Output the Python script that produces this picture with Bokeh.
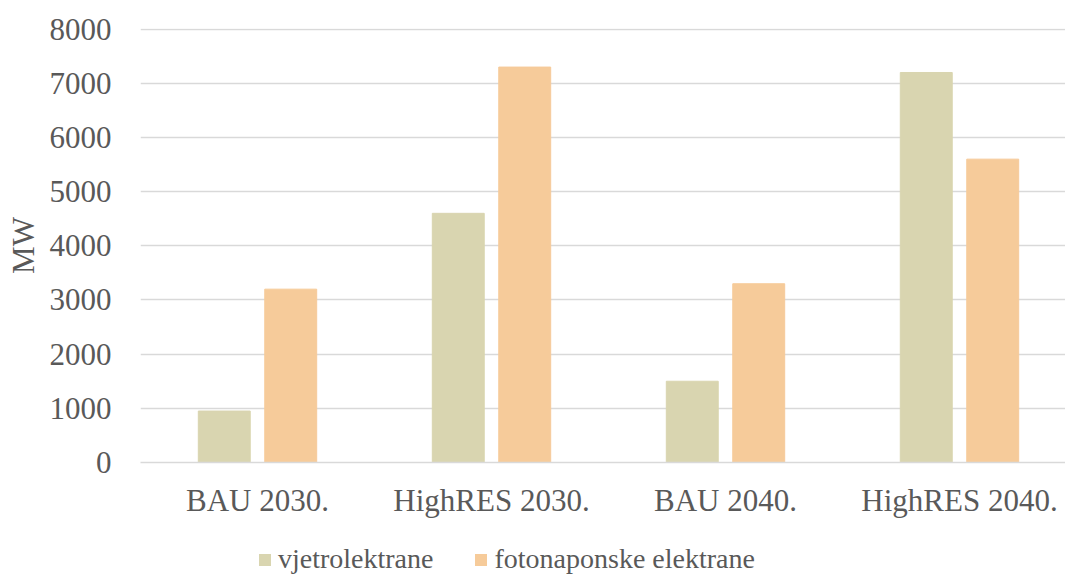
from bokeh.plotting import figure
from bokeh.layouts import column
from bokeh.models import ColumnDataSource, Range1d, FixedTicker, Legend, LegendItem
from bokeh.transform import dodge
from bokeh.embed import file_html
from bokeh.resources import INLINE

categories = ["BAU 2030.", "HighRES 2030.", "BAU 2040.", "HighRES 2040."]
wind = [950, 4600, 1500, 7200]
solar = [3200, 7300, 3300, 5600]
series_names = ["vjetrolektrane", "fotonaponske elektrane"]
y_ticks = [0, 1000, 2000, 3000, 4000, 5000, 6000, 7000, 8000]

FONT = "Liberation Serif"
TEXT = "#595959"
GRID = "#D9D9D9"
WIND_C = "#D9D5B0"
SOLAR_C = "#F6CB9A"

src = ColumnDataSource(dict(x=list(range(len(categories))), wind=wind, solar=solar))

p = figure(width=1065, height=530,
           x_range=Range1d(-0.5, 3.453), y_range=Range1d(0, 8012),
           output_backend="svg", toolbar_location=None,
           min_border_left=140, min_border_right=0,
           min_border_top=28, min_border_bottom=68)
p.outline_line_color = None
p.background_fill_color = "white"
p.border_fill_color = "white"

r1 = p.vbar(x=dodge('x', -0.142, range=p.x_range), top='wind', width=0.222,
            source=src, fill_color=WIND_C, line_color=WIND_C)
r2 = p.vbar(x=dodge('x', 0.142, range=p.x_range), top='solar', width=0.222,
            source=src, fill_color=SOLAR_C, line_color=SOLAR_C)

# axes
p.xaxis.ticker = FixedTicker(ticks=list(range(len(categories))))
p.xaxis.major_label_overrides = {i: c for i, c in enumerate(categories)}
p.yaxis.ticker = FixedTicker(ticks=y_ticks)
for ax in (p.xaxis[0], p.yaxis[0]):
    ax.axis_line_color = None
    ax.major_tick_line_color = None
    ax.minor_tick_line_color = None
    ax.major_label_text_font = FONT
    ax.major_label_text_font_size = "31px"
    ax.major_label_text_color = TEXT
p.xaxis.axis_line_color = GRID
p.xaxis.axis_line_width = 1.5
p.xaxis.major_label_standoff = 14
p.yaxis.major_label_standoff = 23
p.yaxis.axis_label = "MW"
p.yaxis.axis_label_text_font = FONT
p.yaxis.axis_label_text_font_size = "31px"
p.yaxis.axis_label_text_font_style = "normal"
p.yaxis.axis_label_text_color = TEXT
p.yaxis.axis_label_standoff = 6

p.xgrid.grid_line_color = None
p.ygrid.grid_line_color = GRID
p.ygrid.grid_line_width = 1.5

# legend strip below the chart (its view ranges lie away from the data, so
# only the legend swatches of these renderers are visible)
lg = figure(width=1065, height=45, x_range=Range1d(100, 101), y_range=Range1d(100000, 100001),
            x_axis_type=None, y_axis_type=None,
            output_backend="svg", toolbar_location=None,
            min_border_left=0, min_border_right=0, min_border_top=0, min_border_bottom=0)
lg.outline_line_color = None
lg.xgrid.visible = False
lg.ygrid.visible = False
k1 = lg.vbar(x='x', top='wind', width=0.222, source=src, fill_color=WIND_C, line_color=None)
k2 = lg.vbar(x='x', top='solar', width=0.222, source=src, fill_color=SOLAR_C, line_color=None)

legend = Legend(items=[LegendItem(label=series_names[0], renderers=[k1]),
                       LegendItem(label=series_names[1], renderers=[k2])],
                location=(117, 0), orientation="horizontal",
                glyph_width=15, glyph_height=15, label_standoff=6, spacing=40,
                padding=0, margin=0, border_line_color=None,
                background_fill_alpha=0,
                label_text_font=FONT, label_text_font_size="28px",
                label_text_color=TEXT)
lg.add_layout(legend, "center")

layout = column(p, lg, spacing=0)
open("out.html", "w").write(file_html(layout, INLINE))
